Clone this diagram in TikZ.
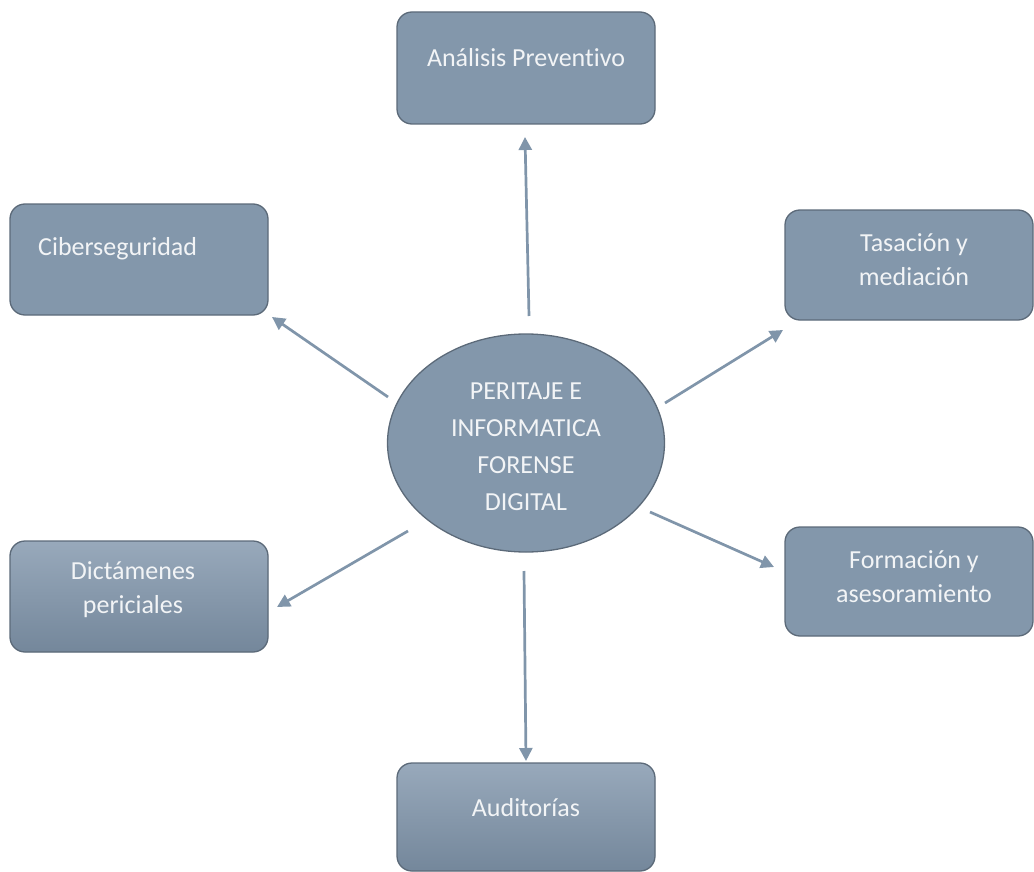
\documentclass[tikz,border=0pt]{standalone}
\usepackage{fontspec}
\setmainfont{Carlito}[Ligatures={NoCommon}]
\usetikzlibrary{shapes.geometric,arrows.meta}
\definecolor{boxc}{RGB}{131,151,171}
\definecolor{bordc}{RGB}{92,106,121}
\definecolor{gtop}{RGB}{152,169,187}
\definecolor{gbot}{RGB}{116,135,155}
\definecolor{arrc}{RGB}{128,149,170}
\definecolor{txtc}{RGB}{242,244,246}
\tikzset{
  box/.style={draw=bordc, line width=1.3pt, rounded corners=15pt, fill=boxc, inner sep=0pt},
  gbox/.style={box, top color=gtop, bottom color=gbot},
  oval/.style={ellipse, draw=bordc, line width=1.3pt, fill=boxc, inner sep=0pt},
  txt/.style={text=txtc, font=\fontsize{26}{34}\selectfont, align=center, inner sep=0pt},
  arr/.style={draw=arrc, line width=2.7pt, -{Triangle[length=13pt,width=13pt]}}
}
\begin{document}
\begin{tikzpicture}[x=1pt,y=-1pt]
\useasboundingbox (0,0) rectangle (1034,872);
% boxes
\node[box, minimum width=258pt, minimum height=112pt] (ana) at (526,68) {};
\node[box, minimum width=258pt, minimum height=111pt] (cib) at (139,259.5) {};
\node[box, minimum width=248pt, minimum height=110pt] (tas) at (909,265) {};
\node[gbox, minimum width=258pt, minimum height=111pt] (dic) at (139,596.5) {};
\node[box, minimum width=248pt, minimum height=109pt] (for) at (909,581.5) {};
\node[gbox, minimum width=258pt, minimum height=108pt] (aud) at (526,817) {};
\node[oval, minimum width=277pt, minimum height=218pt] (cen) at (526,443) {};
% texts
\node[txt] (tana) at (526,58) {Análisis Preventivo};
\node[txt, anchor=west] (tcib) at (38,249) {Ciberseguridad};
\node[txt] (ttas) at (914,260) {Tasación y\\mediación};
\node[txt] (tdic) at (133,590) {Dictámenes\\periciales};
\node[txt] (tfor) at (914,577) {Formación y\\asesoramiento};
\node[txt] (taud) at (526,808) {Auditorías};
\node[txt, font=\fontsize{26}{37}\selectfont] (tcen) at (526,447) {PERITAJE E\\INFORMATICA\\FORENSE\\DIGITAL};
% arrow ends
\coordinate (s1) at (529,316); \coordinate (e1) at (525,137);
\coordinate (s2) at (388,397); \coordinate (e2) at (272,317);
\coordinate (s3) at (665,403); \coordinate (e3) at (783,330);
\coordinate (s4) at (408,531); \coordinate (e4) at (277,607);
\coordinate (s5) at (650,512); \coordinate (e5) at (774,567);
\coordinate (s6) at (524,571); \coordinate (e6) at (526,761);
\draw[arr] (s1) -- (e1);
\draw[arr] (s2) -- (e2);
\draw[arr] (s3) -- (e3);
\draw[arr] (s4) -- (e4);
\draw[arr] (s5) -- (e5);
\draw[arr] (s6) -- (e6);
\end{tikzpicture}
\end{document}
